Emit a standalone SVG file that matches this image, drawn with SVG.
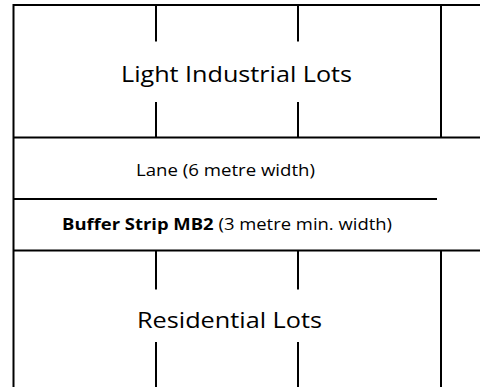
<svg xmlns="http://www.w3.org/2000/svg" width="480" height="387" viewBox="0 0 480 387">
<style>
.ln{stroke:#000;stroke-width:2;fill:none}
.t{font-family:"Open Sans",Lato,"Liberation Sans",sans-serif;fill:#000;text-anchor:middle}
.big{font-size:21px}
.small{font-size:15.5px}
</style>
<rect width="480" height="387" fill="#fff"/>
<g id="outline">
<line class="ln" x1="13.5" y1="5" x2="480" y2="5"/>
<line class="ln" x1="13.5" y1="4" x2="13.5" y2="387"/>
<line class="ln" x1="441" y1="5" x2="441" y2="137.5"/>
<line class="ln" x1="13.5" y1="137.5" x2="480" y2="137.5"/>
<line class="ln" x1="13.5" y1="199" x2="437" y2="199"/>
<line class="ln" x1="13.5" y1="250.5" x2="480" y2="250.5"/>
<line class="ln" x1="441" y1="250.5" x2="441" y2="387"/>
</g>
<g id="industrial-lots">
<line class="ln" x1="156" y1="5" x2="156" y2="41.5"/>
<line class="ln" x1="298" y1="5" x2="298" y2="41.5"/>
<line class="ln" x1="156" y1="102" x2="156" y2="137.5"/>
<line class="ln" x1="298" y1="102" x2="298" y2="137.5"/>
<text class="t big" x="236.5" y="82" textLength="231" lengthAdjust="spacingAndGlyphs">Light Industrial Lots</text>
</g>
<g id="lane">
<text class="t small" x="225.5" y="176" textLength="179" lengthAdjust="spacingAndGlyphs">Lane (6 metre width)</text>
</g>
<g id="buffer-strip">
<text class="t small" x="227" y="230" textLength="330" lengthAdjust="spacingAndGlyphs"><tspan font-weight="bold">Buffer Strip MB2</tspan> (3 metre min. width)</text>
</g>
<g id="residential-lots">
<line class="ln" x1="156" y1="250.5" x2="156" y2="289.5"/>
<line class="ln" x1="298" y1="250.5" x2="298" y2="289.5"/>
<line class="ln" x1="156" y1="342" x2="156" y2="387"/>
<line class="ln" x1="298" y1="342" x2="298" y2="387"/>
<text class="t big" x="229.5" y="328" textLength="185" lengthAdjust="spacingAndGlyphs">Residential Lots</text>
</g>
</svg>
